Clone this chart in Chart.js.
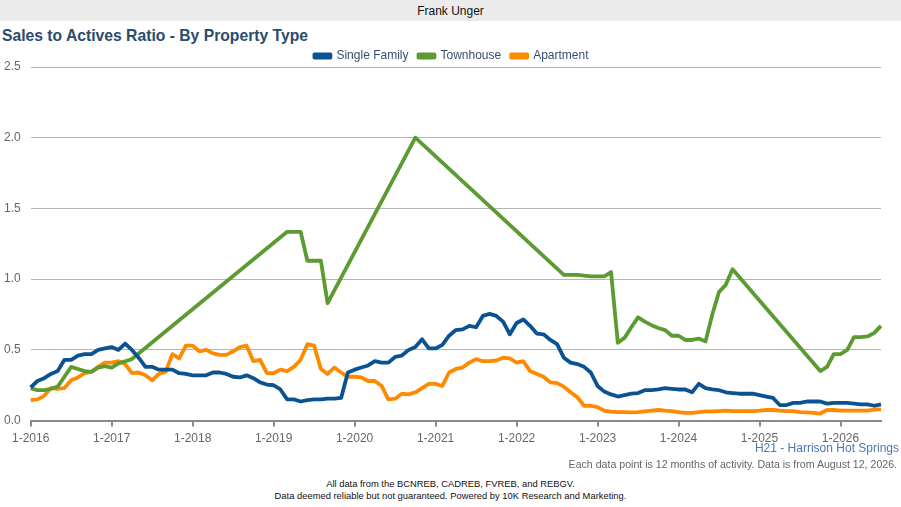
<!DOCTYPE html>
<html>
<head>
<meta charset="utf-8">
<script src="https://cdn.jsdelivr.net/npm/chart.js@4.4.1/dist/chart.umd.min.js"></script>
<style>
  body { margin: 0; width: 901px; height: 507px; background: #fff; font-family: "Liberation Sans", Arial, sans-serif; position: relative; overflow: hidden; }
  #topbar { position: absolute; left: 0; top: 0; width: 901px; height: 21px; background: #ebebeb; text-align: center; font-size: 12px; line-height: 22px; color: #111; }
  #title { position: absolute; left: 2px; top: 27px; font-size: 15.7px; font-weight: bold; color: #2b4b6f; }
  #wrap { position: absolute; left: -9px; top: 35px; width: 910px; height: 416px; }
  #area { position: absolute; right: 2px; top: 441px; font-size: 12px; color: #4a78b0; }
  #note { position: absolute; right: 4px; top: 458px; font-size: 10.6px; color: #666; }
  #foot { position: absolute; left: 0; width: 901px; top: 478px; text-align: center; font-size: 9.4px; line-height: 11.5px; color: #111; }
</style>
</head>
<body>
<div id="topbar">Frank Unger</div>
<div id="title">Sales to Actives Ratio - By Property Type</div>
<div id="wrap"><canvas id="ratioChart" width="910" height="416"></canvas></div>
<div id="area">H21 - Harrison Hot Springs</div>
<div id="note">Each data point is 12 months of activity. Data is from August 12, 2026.</div>
<div id="foot">All data from the BCNREB, CADREB, FVREB, and REBGV.<br>Data deemed reliable but not guaranteed. Powered by 10K Research and Marketing.</div>

<script>
// Monthly points, 1-2016 to 7-2026
const firstYear = 2016;
const numOfMonths = 127;

const seriesNames = ['Single Family', 'Townhouse', 'Apartment'];
const seriesColors = ['#0a5291', '#5c9b31', '#ff8a00'];

const singleFamily = [
  0.235, 0.28, 0.30, 0.33, 0.35, 0.43, 0.43, 0.46, 0.47, 0.47, 0.50, 0.51,
  0.52, 0.50, 0.545, 0.50, 0.445, 0.38, 0.38, 0.36, 0.36, 0.36, 0.335, 0.33,
  0.32, 0.32, 0.32, 0.34, 0.34, 0.33, 0.31, 0.305, 0.32, 0.30, 0.27, 0.255,
  0.25, 0.22, 0.15, 0.15, 0.135, 0.145, 0.15, 0.15, 0.155, 0.155, 0.16, 0.34,
  0.36, 0.375, 0.39, 0.42, 0.41, 0.41, 0.45, 0.46, 0.50, 0.52, 0.575, 0.51,
  0.51, 0.535, 0.60, 0.64, 0.645, 0.67, 0.66, 0.74, 0.755, 0.74, 0.70, 0.61,
  0.69, 0.715, 0.67, 0.615, 0.61, 0.57, 0.54, 0.445, 0.41, 0.40, 0.38, 0.34,
  0.245, 0.205, 0.185, 0.17, 0.18, 0.19, 0.195, 0.215, 0.215, 0.22, 0.23, 0.225,
  0.22, 0.22, 0.20, 0.26, 0.23, 0.22, 0.215, 0.20, 0.195, 0.19, 0.19, 0.19,
  0.18, 0.17, 0.16, 0.11, 0.11, 0.125, 0.125, 0.135, 0.135, 0.135, 0.12, 0.125,
  0.125, 0.125, 0.12, 0.115, 0.115, 0.105, 0.115
];

// gaps (null) are months with no townhouse activity, the line spans them
const townhouse = [
  0.23, 0.215, 0.215, 0.225, 0.24, 0.31, 0.38, 0.365, 0.35, 0.345, 0.375, 0.385,
  0.375, 0.405, 0.42, 0.435, null, null, null, null, null, null, null, null,
  null, null, null, null, null, null, null, null, null, null, null, null,
  null, null, 1.335, 1.335, 1.335, 1.13, 1.13, 1.13, 0.83, null, null, null,
  null, null, null, null, null, null, null, null, null, 2.0, null, null,
  null, null, null, null, null, null, null, null, null, null, null, null,
  null, null, null, null, null, null, null, 1.03, 1.03, 1.03, 1.025, 1.02,
  1.02, 1.02, 1.05, 0.55, 0.585, 0.66, 0.73, 0.70, 0.675, 0.655, 0.64, 0.60,
  0.60, 0.57, 0.57, 0.58, 0.56, 0.75, 0.91, 0.96, 1.07, null, null, null,
  null, null, null, null, null, null, null, null, null, 0.35, 0.38, 0.47,
  0.47, 0.50, 0.59, 0.59, 0.595, 0.62, 0.67
];

const apartment = [
  0.145, 0.15, 0.175, 0.23, 0.225, 0.23, 0.285, 0.305, 0.335, 0.345, 0.38, 0.41,
  0.41, 0.42, 0.40, 0.335, 0.34, 0.32, 0.285, 0.33, 0.345, 0.47, 0.44, 0.53,
  0.53, 0.49, 0.50, 0.475, 0.465, 0.465, 0.49, 0.52, 0.53, 0.42, 0.43, 0.335,
  0.335, 0.36, 0.35, 0.38, 0.43, 0.54, 0.53, 0.365, 0.33, 0.375, 0.34, 0.31,
  0.31, 0.305, 0.28, 0.28, 0.245, 0.15, 0.155, 0.19, 0.185, 0.20, 0.23, 0.26,
  0.26, 0.245, 0.34, 0.365, 0.375, 0.41, 0.435, 0.42, 0.42, 0.425, 0.445, 0.44,
  0.41, 0.42, 0.35, 0.33, 0.31, 0.27, 0.265, 0.24, 0.20, 0.165, 0.105, 0.105,
  0.095, 0.07, 0.063, 0.06, 0.06, 0.058, 0.06, 0.065, 0.07, 0.075, 0.07, 0.067,
  0.06, 0.055, 0.055, 0.06, 0.065, 0.065, 0.067, 0.07, 0.067, 0.067, 0.067, 0.067,
  0.07, 0.075, 0.075, 0.07, 0.067, 0.067, 0.06, 0.058, 0.055, 0.05, 0.075, 0.075,
  0.07, 0.07, 0.07, 0.07, 0.07, 0.078, 0.08
];

// month labels like "1-2016"
const monthLabels = [];
for (let i = 0; i < numOfMonths; i++) {
  monthLabels.push(`${(i % 12) + 1}-${firstYear + Math.floor(i / 12)}`);
}

const allSeries = [singleFamily, townhouse, apartment];

// nudge the legend a little right and down, like the original
const legendShift = {
  id: 'legendShift',
  afterLayout(chart) {
    chart.legend.left += 14;
    chart.legend.right += 14;
    chart.legend.top += 5;
    chart.legend.bottom += 5;
  },
};

drawChart('ratioChart');

function drawChart(htmlElement) {
  const ctx = document.getElementById(htmlElement).getContext('2d');
  new Chart(ctx, {
    type: 'line',
    data: {
      labels: monthLabels,
      datasets: allSeries.map((values, k) => ({
        label: seriesNames[k],
        data: values,
        borderColor: seriesColors[k],
        backgroundColor: seriesColors[k],
        borderWidth: 3.8,
        pointRadius: 0,
        tension: 0,
        spanGaps: true,
        borderJoinStyle: 'round',
      })),
    },
    plugins: [legendShift],
    options: {
      responsive: false,
      animation: false,
      layout: { padding: { left: 3, right: 20, top: 0, bottom: 0 } },
      plugins: {
        legend: {
          position: 'top',
          labels: {
            boxWidth: 16,
            boxHeight: 3,
            padding: 10,
            color: '#34506e',
            font: { family: 'Liberation Sans', size: 12 },
          },
        },
        tooltip: { enabled: false },
      },
      scales: {
        x: {
          border: { display: true, color: '#8a8a8a', width: 2 },
          grid: {
            drawOnChartArea: false,
            drawTicks: true,
            tickLength: 6,
            lineWidth: 2,
            color: (c) => (c.index % 12 === 0 ? '#8a8a8a' : 'rgba(0,0,0,0)'),
          },
          ticks: {
            autoSkip: false,
            maxRotation: 0,
            padding: 5,
            color: '#666',
            font: { family: 'Liberation Sans', size: 12 },
            callback: function (value, index) {
              return index % 12 === 0 ? monthLabels[index] : '';
            },
          },
        },
        y: {
          min: 0,
          max: 2.5,
          border: { display: false },
          grid: { color: '#b4b4b4', lineWidth: 1, drawTicks: false },
          ticks: {
            stepSize: 0.5,
            padding: 10,
            color: '#666',
            font: { family: 'Liberation Sans', size: 12 },
            callback: (v) => v.toFixed(1),
          },
        },
      },
    },
  });
}
</script>
</body>
</html>
